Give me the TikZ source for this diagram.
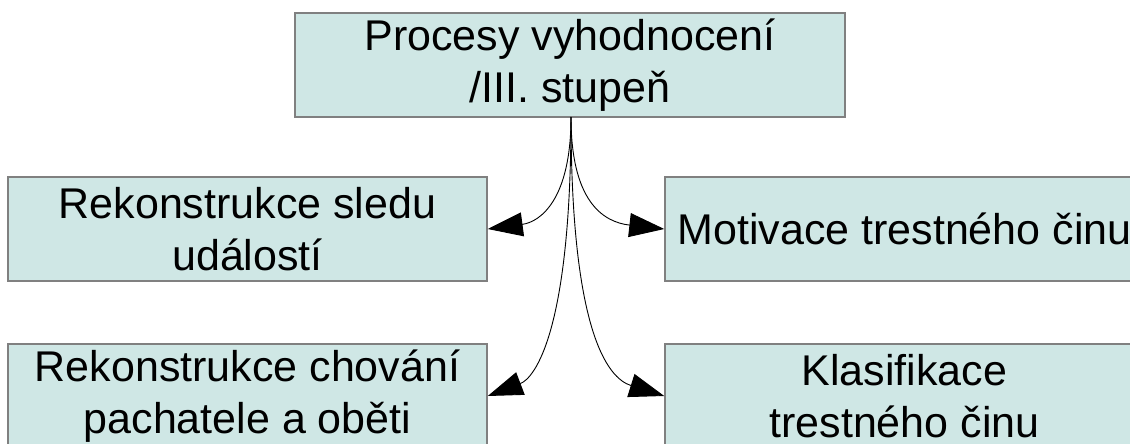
\documentclass[tikz,border=0pt]{standalone}
\usepackage{fontspec}
\setmainfont{Liberation Sans}
\usetikzlibrary{arrows.meta}
\definecolor{boxfill}{RGB}{207,231,229}
\definecolor{boxline}{RGB}{128,128,128}
\begin{document}
\begin{tikzpicture}[x=1pt,y=-1pt,
  box/.style={draw=boxline,line width=1.5pt,fill=boxfill,minimum height=104pt,
    inner sep=2pt,align=center,font=\fontsize{43}{52}\selectfont},
  arr/.style={line width=0.9pt,-{Triangle[length=35pt,width=24pt]}}]
\useasboundingbox (0,0) rectangle (1130,444);
\node[box,minimum width=550pt] (top) at (570,65) {Procesy vyhodnocení\\/III. stupeň};
\node[box,minimum width=479pt] (ml) at (247.5,229) {Rekonstrukce sledu\\událostí};
\node[box,minimum width=479pt] (mr) at (904.5,229) {Motivace trestného činu};
\node[box,minimum width=479pt] (bl) at (247.5,396) {Rekonstrukce chování\\pachatele a oběti};
\node[box,minimum width=479pt] (br) at (904.5,396) {Klasifikace\\trestného činu};
\coordinate (src) at (571,117);
\draw[arr] (src) .. controls (571,200) and (540,222) .. (ml.east);
\draw[arr] (src) .. controls (571,200) and (602,222) .. (mr.west);
\draw[arr] (src) .. controls (571,330) and (535,378) .. (bl.east);
\draw[arr] (src) .. controls (571,330) and (607,378) .. (br.west);
\end{tikzpicture}
\end{document}
